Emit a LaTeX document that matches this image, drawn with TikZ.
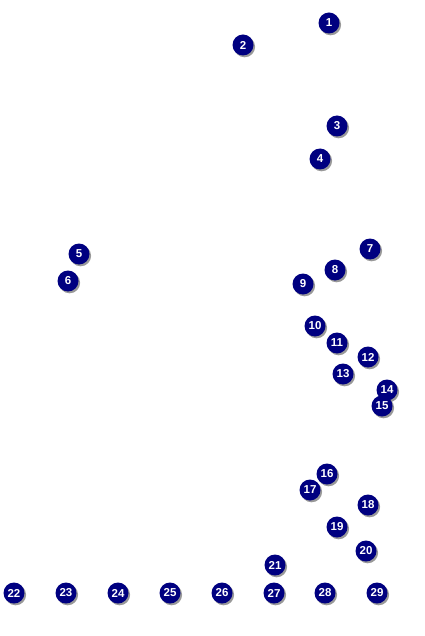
\documentclass[tikz,border=0pt]{standalone}
\usepackage{fontspec}
\setmainfont{Liberation Sans}
\definecolor{navy}{RGB}{0,0,128}
\tikzset{
  ball/.style={circle, fill=navy, minimum size=21pt, inner sep=0pt, text=white,
    font=\bfseries\fontsize{11.5}{11.5}\selectfont},
  shade/.style={circle, fill=black!40, minimum size=21pt, inner sep=0pt}
}
\newcommand{\bl}[3]{%
  \node[shade] (s#1) at (#2+1.6,#3+1.8) {};
  \node[ball] (n#1) at (#2,#3) {#1};}
\begin{document}
\begin{tikzpicture}[x=1pt,y=-1pt]
\useasboundingbox (0,0) rectangle (424,636);
\bl{1}{329}{23}
\bl{2}{243}{45}
\bl{3}{337}{126}
\bl{4}{320}{159}
\bl{5}{79}{254}
\bl{6}{68}{281}
\bl{7}{370}{249}
\bl{8}{335}{270}
\bl{9}{303}{284}
\bl{10}{315}{326}
\bl{11}{337}{343}
\bl{12}{368}{357}
\bl{13}{343}{374}
\bl{14}{387}{390}
\bl{15}{382}{406}
\bl{16}{327}{474}
\bl{17}{310}{490}
\bl{18}{368}{505}
\bl{19}{337}{527}
\bl{20}{366}{551}
\bl{21}{275}{565}
\bl{22}{14}{593}
\bl{23}{66}{593}
\bl{24}{118}{593}
\bl{25}{170}{593}
\bl{26}{222}{593}
\bl{27}{274}{593}
\bl{28}{325}{593}
\bl{29}{377}{593}
\end{tikzpicture}
\end{document}
